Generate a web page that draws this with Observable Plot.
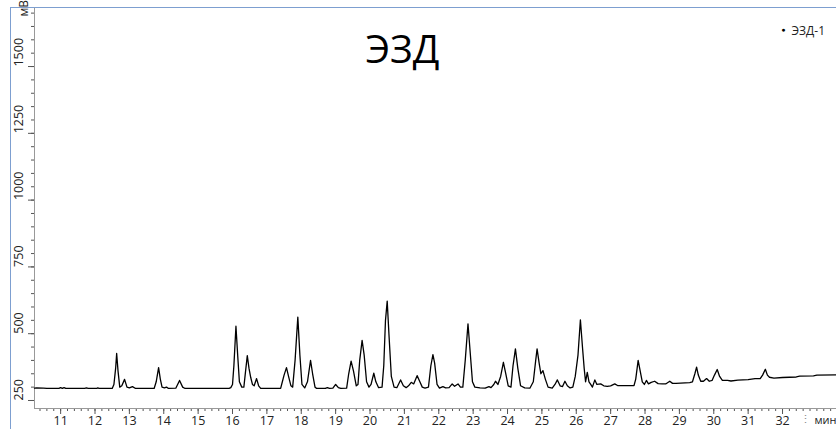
<!DOCTYPE html>
<html><head><meta charset="utf-8">
<script src="https://cdn.jsdelivr.net/npm/d3@7"></script>
<script src="https://cdn.jsdelivr.net/npm/@observablehq/plot@0.6"></script>
<style>
body{margin:0;background:#fff;}
#wrap{position:relative;width:836px;height:429px;overflow:hidden;}
#wrap svg{position:absolute;left:0;top:0;}
#border{position:absolute;left:10px;top:7px;right:-2px;bottom:-2px;border-left:1px solid #7d9fd0;border-top:1px solid #7d9fd0;pointer-events:none;}
</style></head><body>
<div id="wrap"><div id="border"></div></div>
<script>
// retention time, min
const time = [10.24,10.3,10.5,10.6,10.95,11.0,11.05,11.1,11.15,11.7,11.75,11.8,12.05,12.08,12.12,12.5,
12.55,12.6,12.63,12.67,12.72,12.78,12.86,12.93,13.0,13.09,13.18,13.72,13.78,13.85,13.9,13.95,14.02,14.08,14.14,14.35,14.46,14.55,14.62,
15.3,15.9,15.95,16.0,16.04,16.1,16.15,16.2,16.27,16.33,16.38,16.43,16.48,16.53,16.58,16.63,16.7,16.76,16.82,
17.4,17.45,17.5,17.57,17.63,17.7,17.75,17.82,17.9,17.96,18.02,18.1,18.18,18.27,18.33,18.4,18.45,
18.7,18.76,18.82,18.92,19.0,19.08,19.15,19.32,19.38,19.45,19.52,19.6,19.65,19.7,19.77,19.83,19.9,19.97,20.03,20.11,20.17,20.25,
20.35,20.4,20.45,20.5,20.55,20.62,20.7,20.78,20.89,20.97,21.05,21.12,21.2,21.27,21.37,21.45,21.52,21.6,21.7,21.77,21.83,21.88,21.95,
22.02,22.12,22.2,22.3,22.39,22.46,22.56,22.63,22.7,22.77,22.85,22.92,22.98,23.05,23.2,23.35,23.46,23.52,23.6,23.65,23.72,23.8,23.88,
23.95,24.02,24.1,24.16,24.23,24.3,24.38,24.5,24.65,24.75,24.82,24.86,24.92,24.97,25.03,25.1,25.18,25.3,25.38,25.45,25.53,25.6,25.67,
25.74,25.82,25.9,25.97,26.05,26.12,26.18,26.23,26.27,26.32,26.37,26.42,26.47,26.54,26.6,26.71,26.8,26.9,27.0,27.12,27.2,27.4,27.68,
27.73,27.8,27.86,27.92,27.98,28.04,28.1,28.18,28.28,28.38,28.5,28.6,28.72,28.8,28.9,29.3,29.38,29.45,29.5,29.55,29.62,29.7,29.79,
29.87,29.95,30.02,30.1,30.17,30.25,30.4,30.5,30.7,31.0,31.2,31.35,31.42,31.5,31.56,31.62,31.75,32.0,32.4,32.5,32.9,33.0,33.57];
// detector signal, mV
const signal = [296,297,296,295,295,298,295,298,295,295,297,295,295,297,295,295,
310,370,426,360,300,305,329,300,297,302,295,295,320,373,330,300,297,300,295,296,325,300,295,
295,295,298,310,380,528,420,320,300,300,360,418,370,336,310,305,332,305,295,
295,320,345,373,340,305,300,400,562,420,310,297,320,400,350,300,295,
295,298,295,296,310,298,295,296,350,397,360,305,310,400,475,420,320,300,310,352,320,298,
300,380,550,622,500,340,300,298,327,305,298,305,318,312,343,320,300,296,300,380,422,390,310,
296,302,297,298,312,303,312,300,300,400,537,420,320,300,297,296,302,298,310,322,310,340,393,
350,305,300,380,443,370,305,297,296,320,400,443,390,350,362,330,300,296,310,327,305,302,322,
305,297,300,340,420,552,450,370,320,355,320,310,300,327,310,312,305,303,305,312,306,306,306,
330,400,360,320,310,325,312,318,322,313,312,312,322,314,314,317,320,350,375,345,322,322,332,
322,325,345,366,340,325,325,323,326,328,332,332,345,367,345,337,334,336,338,341,342,345,346];

const xDomain = [10.24, 33.57];
const yDomain = [220, 1721];
const xMajor = [11,12,13,14,15,16,17,18,19,20,21,22,23,24,25,26,27,28,29,30,31,32];
const xMinor = d3.range(10.4, 33.5, 0.2);
const yMajor = [250,500,750,1000,1250,1500];
const yMinor = d3.range(250, 1701, 50);
const title = ["ЭЗД"];
const legendLabel = ["ЭЗД-1"];
const yUnit = ["мВ"];
const xUnit = ["мин"];

const data = time.map((t, i) => ({t, v: signal[i]}));
const font = "'Open Sans', sans-serif";

const chart = Plot.plot({
  width: 836, height: 429,
  marginLeft: 34, marginRight: 0, marginTop: 7, marginBottom: 21,
  style: {fontFamily: font, fontSize: "12.5px", color: "#333", background: "transparent", overflow: "visible"},
  x: {domain: xDomain},
  y: {domain: yDomain},
  marks: [
    Plot.axisX({ticks: xMinor, tickSize: 3, tickFormat: () => "", label: null, stroke: "#555"}),
    Plot.axisX({ticks: xMajor, tickSize: 6, tickPadding: 2, tickFormat: d => String(d), label: null, stroke: "#555", fill: "#222"}),
    Plot.axisY({ticks: yMinor, tickSize: 3, tickFormat: () => "", label: null, stroke: "#555"}),
    Plot.axisY({ticks: yMajor, tickSize: 6, tickFormat: () => "", label: null, stroke: "#555"}),
    Plot.text(yMajor, {y: d => d, frameAnchor: "left", dx: -16, rotate: -90, text: d => String(d), fill: "#222", fontSize: 12.5}),
    Plot.ruleX([xDomain[0]], {stroke: "#999"}),
    Plot.ruleY([yDomain[0]], {stroke: "#999"}),
    Plot.line(data, {x: "t", y: "v", stroke: "#000", strokeWidth: 1.3}),
    Plot.text(yUnit, {frameAnchor: "top-left", dx: -15, dy: 9, rotate: -90, text: d => d, fill: "#222", fontSize: 12}),
    Plot.text(xUnit, {frameAnchor: "bottom-right", dx: -22, dy: 15, textAnchor: "start", text: d => d, fill: "#222", fontSize: 11}),
    Plot.text(["⋮"], {frameAnchor: "bottom-right", dx: -26, dy: 14, text: d => d, fill: "#888", fontSize: 11}),
    Plot.text(title, {frameAnchor: "top", dx: -33, dy: 28, text: d => d, fill: "#000", fontSize: 39}),
    Plot.text(["●"], {frameAnchor: "top-right", dx: -51, dy: 20, text: d => d, fill: "#000", fontSize: 7}),
    Plot.text(legendLabel, {frameAnchor: "top-right", dx: -45, dy: 19, textAnchor: "start", text: d => d, fill: "#222", fontSize: 12})
  ]
});
document.getElementById("wrap").insertBefore(chart, document.getElementById("border"));
</script>
</body></html>
